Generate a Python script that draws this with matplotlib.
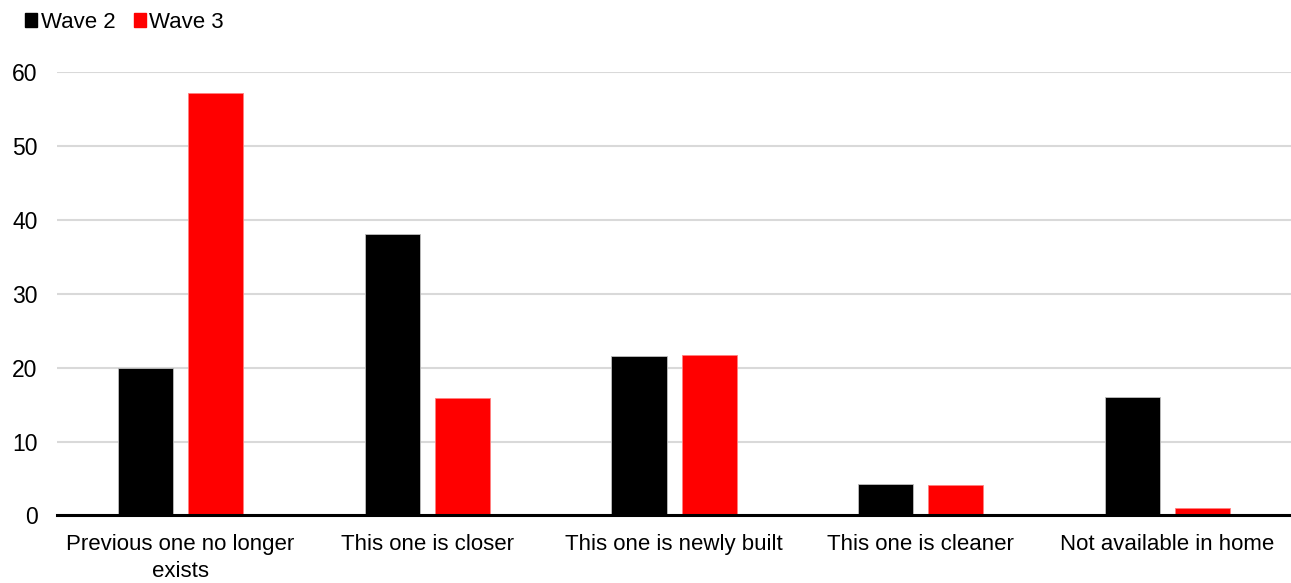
import matplotlib
matplotlib.use("Agg")
import matplotlib.pyplot as plt
import numpy as np
from matplotlib.patches import Rectangle

categories = ["Previous one no longer\nexists", "This one is closer",
              "This one is newly built", "This one is cleaner",
              "Not available in home"]
wave2 = [20.0, 38.0, 21.6, 4.3, 16.0]
wave3 = [57.1, 15.9, 21.7, 4.1, 1.05]
series_names = ["Wave 2", "Wave 3"]
colors = ["#000000", "#ff0000"]
yticks = [0, 10, 20, 30, 40, 50, 60]

plt.rcParams['font.family'] = ['Liberation Sans', 'DejaVu Sans']

fig = plt.figure(figsize=(12.91, 5.83), dpi=100)
ax = fig.add_axes([0.0442, 0.1158, 0.9558, 0.7612])

x = np.arange(len(categories))
w = 0.223
off = 0.142
ax.bar(x - off, wave2, width=w, color=colors[0], edgecolor="#bfbfbf", linewidth=0.6, zorder=3)
ax.bar(x + off, wave3, width=w, color=colors[1], edgecolor="#ff8080", linewidth=0.6, zorder=3)

ax.set_xlim(-0.5, len(categories) - 0.5)
ax.set_ylim(0, 60)
ax.set_yticks(yticks)
ax.set_yticklabels([str(t) for t in yticks], fontsize=16.5)
ax.yaxis.grid(True, color="#d9d9d9", linewidth=1.5, zorder=0)
ax.set_axisbelow(True)
ax.tick_params(axis='y', length=0, pad=14)
ax.tick_params(axis='x', length=0, pad=13)
ax.set_xticks(x)
ax.set_xticklabels(categories, fontsize=16, linespacing=1.4)
for s in ["top", "right", "left"]:
    ax.spines[s].set_visible(False)
ax.spines["bottom"].set_color("black")
ax.spines["bottom"].set_linewidth(2.2)
ax.spines["bottom"].set_zorder(4)

# legend in the top-left corner
handles = [Rectangle((0, 0), 1, 1, color=c) for c in colors]
leg = fig.legend(handles, series_names, loc="upper left", bbox_to_anchor=(0.004, 1.014),
                 ncol=2, frameon=False, fontsize=16, handlelength=0.55, handleheight=0.55,
                 handletextpad=0.15, columnspacing=0.82)

fig.savefig("out.png", dpi=100)
